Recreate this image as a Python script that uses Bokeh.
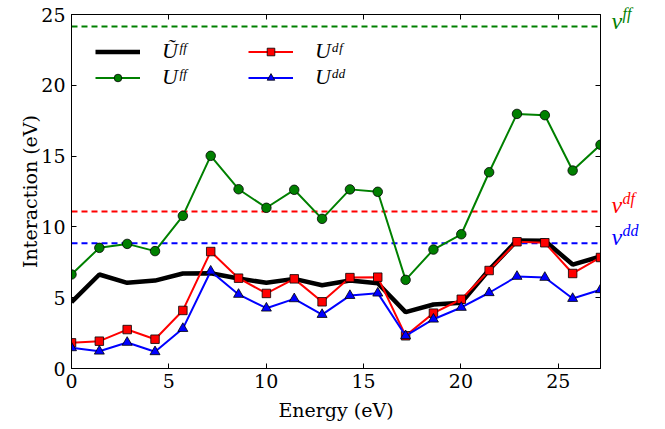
from bokeh.plotting import figure
from bokeh.layouts import row
from bokeh.models import Range1d, Span, Label, Legend, LegendItem, LinearAxis, FixedTicker, Plot
from bokeh.embed import file_html
from bokeh.resources import INLINE

# ---- data ----
energies = [0.0, 1.43, 2.86, 4.29, 5.72, 7.15, 8.58, 10.01, 11.44, 12.87,
            14.30, 15.73, 17.16, 18.59, 20.02, 21.45, 22.88, 24.31, 25.74, 27.17]
u_ff_tilde = [4.68, 6.64, 6.05, 6.21, 6.71, 6.73, 6.36, 6.05, 6.33, 5.88,
              6.21, 6.02, 3.98, 4.52, 4.64, 6.97, 9.04, 9.02, 7.34, 7.91]
u_ff = [6.64, 8.52, 8.80, 8.29, 10.78, 15.02, 12.66, 11.35, 12.62, 10.57,
        12.65, 12.48, 6.26, 8.40, 9.48, 13.86, 17.98, 17.89, 13.98, 15.80]
u_df = [1.81, 1.93, 2.75, 2.07, 4.10, 8.26, 6.38, 5.30, 6.33, 4.71,
        6.42, 6.45, 2.31, 3.91, 4.89, 6.92, 8.95, 8.88, 6.71, 7.84]
u_dd = [1.46, 1.22, 1.84, 1.18, 2.82, 6.87, 5.23, 4.26, 4.92, 3.81,
        5.15, 5.32, 2.31, 3.48, 4.31, 5.35, 6.50, 6.43, 4.94, 5.56]
v_ff = 24.15
v_df = 11.09
v_dd = 8.85
x_ticks = [0, 5, 10, 15, 20, 25]
y_ticks = [0, 5, 10, 15, 20, 25]
legend_labels = ["Ũᶠᶠ", "Uᶠᶠ", "Uᵈᶠ", "Uᵈᵈ"]
v_labels = [("v", "ff"), ("v", "df"), ("v", "dd")]

GREEN = "#008000"
RED = "#ff0000"
BLUE = "#0000ff"
SERIF = "DejaVu Serif"
MATH = "Liberation Serif"
FRAME_W = 529
FRAME_H = 354
TOP = 14
BOTTOM = 53
Y_MAX = 25

p = figure(frame_width=FRAME_W, frame_height=FRAME_H,
           x_range=Range1d(0, energies[-1]), y_range=Range1d(0, Y_MAX),
           output_backend="svg", toolbar_location=None,
           min_border_left=71, min_border_right=8,
           min_border_top=TOP, min_border_bottom=BOTTOM)
p.xgrid.visible = False
p.ygrid.visible = False
p.outline_line_color = "black"
p.outline_line_width = 1
p.background_fill_color = "white"

for ax, ticks in ((p.xaxis[0], x_ticks), (p.yaxis[0], y_ticks)):
    ax.ticker = FixedTicker(ticks=ticks)
    ax.major_tick_in = 5
    ax.major_tick_out = 0
    ax.minor_tick_in = 0
    ax.minor_tick_out = 0
    ax.axis_line_color = "black"
    ax.major_tick_line_color = "black"
    ax.major_label_text_font = SERIF
    ax.major_label_text_font_size = "19px"
    ax.major_label_text_color = "black"
    ax.axis_label_text_font = SERIF
    ax.axis_label_text_font_style = "normal"
    ax.axis_label_text_font_size = "19px"
    ax.axis_label_text_color = "black"
p.xaxis.axis_label = "Energy (eV)"
p.yaxis.axis_label = "Interaction (eV)"
p.xaxis.major_label_standoff = 5
p.xaxis.axis_label_standoff = 8
p.yaxis.major_label_standoff = 6
p.yaxis.axis_label_standoff = -3

# mirrored tick marks on top and right (no labels)
for ticks, side_name in ((y_ticks, "right"), (x_ticks, "above")):
    ax = LinearAxis(ticker=FixedTicker(ticks=ticks), major_tick_in=5, major_tick_out=0,
                    minor_tick_in=0, minor_tick_out=0,
                    major_label_overrides={t: "" for t in ticks},
                    major_label_standoff=0, axis_line_color="black")
    p.add_layout(ax, side_name)

# reference levels
for val, col in ((v_ff, GREEN), (v_df, RED), (v_dd, BLUE)):
    p.add_layout(Span(location=val, dimension="width", line_color=col,
                      line_width=2, line_dash="6 4", level="underlay"))

r_black = p.line(energies, u_ff_tilde, line_color="black", line_width=4.5)
r_gl = p.line(energies, u_ff, line_color=GREEN, line_width=2)
r_gm = p.scatter(energies, u_ff, marker="circle", size=9.5, fill_color=GREEN,
                 line_color="black", line_width=0.8)
r_rl = p.line(energies, u_df, line_color=RED, line_width=2)
r_rm = p.scatter(energies, u_df, marker="square", size=8.5, fill_color=RED,
                 line_color="black", line_width=0.8)
r_bl = p.line(energies, u_dd, line_color=BLUE, line_width=2)
r_bm = p.scatter(energies, u_dd, marker="triangle", size=10, fill_color=BLUE,
                 line_color="black", line_width=0.8)

legend = Legend(items=[
    LegendItem(label=legend_labels[0], renderers=[r_black]),
    LegendItem(label=legend_labels[1], renderers=[r_gl, r_gm]),
    LegendItem(label=legend_labels[2], renderers=[r_rl, r_rm]),
    LegendItem(label=legend_labels[3], renderers=[r_bl, r_bm]),
], location="top_left", orientation="vertical", nrows=2)
legend.label_text_font = MATH
legend.label_text_font_style = "italic"
legend.label_text_font_size = "22px"
legend.label_text_color = "black"
legend.glyph_width = 45
legend.glyph_height = 19
legend.label_height = 19
legend.label_standoff = 22
legend.label_width = 86
legend.spacing = 0
legend.padding = 23
legend.margin = 1
legend.background_fill_alpha = 0
legend.border_line_alpha = 0
p.add_layout(legend)

# side strip holding the level labels; its frame spans from the page top
# down to the x axis, with the same vertical scale as the main plot
side = figure(frame_width=48, frame_height=FRAME_H + TOP,
              x_range=Range1d(0, 1), y_range=Range1d(0, Y_MAX * (FRAME_H + TOP) / FRAME_H),
              output_backend="svg", toolbar_location=None,
              x_axis_location=None, y_axis_location=None,
              min_border_left=0, min_border_right=0,
              min_border_top=0, min_border_bottom=BOTTOM)
side.xgrid.visible = False
side.ygrid.visible = False
side.outline_line_color = None
side.background_fill_color = "white"
side.border_fill_color = "white"
if "frame_align" in Plot.properties():
    side.frame_align = False
    p.frame_align = False

for (base, sup), val, col in zip(v_labels, (v_ff, v_df, v_dd), (GREEN, RED, BLUE)):
    side.add_layout(Label(x=3, x_units="screen", y=val, y_offset=6, text=base,
                          text_font=MATH, text_font_style="italic", text_font_size="24px",
                          text_color=col, text_baseline="middle", text_align="left"))
    side.add_layout(Label(x=14, x_units="screen", y=val, y_offset=13, text=sup,
                          text_font=MATH, text_font_style="italic", text_font_size="16px",
                          text_color=col, text_baseline="middle", text_align="left"))

layout = row(p, side, spacing=0)
open("out.html", "w").write(file_html(layout, INLINE))
